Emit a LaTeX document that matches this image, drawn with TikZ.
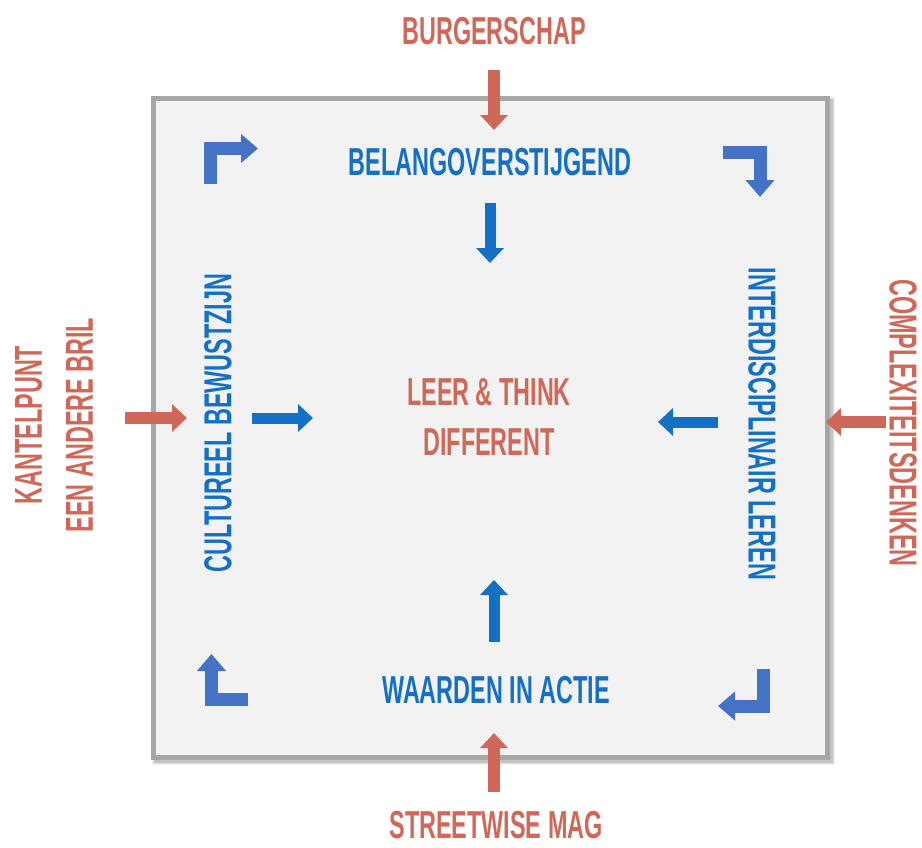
\documentclass[tikz,border=0pt]{standalone}
\usepackage{fontspec}
\setmainfont{Liberation Sans}[FakeStretch=0.6]
\usetikzlibrary{arrows.meta}

\definecolor{txtblue}{HTML}{1470C4}
\definecolor{cornerblue}{HTML}{4472C4}
\definecolor{accred}{HTML}{D0685A}
\definecolor{boxfill}{HTML}{F2F2F2}
\definecolor{boxline}{HTML}{A6A6A6}

\tikzset{
  lbl/.style={font=\fontsize{39}{50}\selectfont\bfseries, inner sep=0pt, align=center},
  bluelbl/.style={lbl, text=txtblue},
  redlbl/.style={lbl, text=accred},
  fat/.style={line width=12pt, -{Triangle[length=15pt,width=27pt]}},
  redarr/.style={fat, draw=accred},
  bluearr/.style={fat, draw=txtblue, line width=11pt},
  turn/.style={line width=13pt, draw=cornerblue, line join=miter,
    -{Triangle[length=17pt,width=28pt]}},
}

\begin{document}
\begin{tikzpicture}[x=1pt,y=-1pt]
\useasboundingbox (0,0) rectangle (922,847);

% box with a soft shadow
\foreach \d/\o in {9/0.05,7/0.08,5/0.12}
  \draw[line width=\d pt, black, opacity=\o] (156,101) rectangle (830,760);
\draw[line width=5pt, draw=boxline, fill=boxfill] (153,98) rectangle (827,757);

% labels
\node[redlbl] (burger) at (494,31) {BURGERSCHAP};
\node[bluelbl] (belang) at (490,162) {BELANGOVERSTIJGEND};
\node[redlbl] (leer) at (489,417) {LEER \& THINK\\DIFFERENT};
\node[bluelbl] (waarden) at (496,690) {WAARDEN IN ACTIE};
\node[redlbl] (street) at (496,825) {STREETWISE MAG};
\node[bluelbl, rotate=90] (cultuur) at (218,423) {CULTUREEL BEWUSTZIJN};
\node[redlbl, rotate=90, font=\fontsize{39}{51}\selectfont\bfseries] (kantel) at (54,425) {KANTELPUNT\\EEN ANDERE BRIL};
\node[bluelbl, rotate=-90] (inter) at (762,424) {INTERDISCIPLINAIR LEREN};
\node[redlbl, rotate=-90] (complex) at (903,423) {COMPLEXITEITSDENKEN};

% arrow ends
\coordinate (top-a) at (494,70);   \coordinate (top-b) at (494,130);
\coordinate (top-c) at (490,203);  \coordinate (top-d) at (490,263);
\coordinate (left-a) at (125,418); \coordinate (left-b) at (187,418);
\coordinate (left-c) at (252,418); \coordinate (left-d) at (313,418);
\coordinate (right-a) at (886,422); \coordinate (right-b) at (826,422);
\coordinate (right-c) at (718,422); \coordinate (right-d) at (658,422);
\coordinate (bot-a) at (494,792);  \coordinate (bot-b) at (494,733);
\coordinate (bot-c) at (494,642);  \coordinate (bot-d) at (494,580);

\draw[redarr] (top-a) -- (top-b);
\draw[bluearr] (top-c) -- (top-d);
\draw[redarr] (left-a) -- (left-b);
\draw[bluearr] (left-c) -- (left-d);
\draw[redarr] (right-a) -- (right-b);
\draw[bluearr] (right-c) -- (right-d);
\draw[redarr] (bot-a) -- (bot-b);
\draw[bluearr] (bot-c) -- (bot-d);

% corner turns
\coordinate (tl-a) at (210.5,184); \coordinate (tl-b) at (210.5,148.5); \coordinate (tl-c) at (258,148.5);
\coordinate (tr-a) at (723,152);   \coordinate (tr-b) at (760,152);     \coordinate (tr-c) at (760,197);
\coordinate (bl-a) at (248,699);   \coordinate (bl-b) at (211.5,699);   \coordinate (bl-c) at (211.5,654);
\coordinate (br-a) at (763,669);   \coordinate (br-b) at (763,706);     \coordinate (br-c) at (718,706);

\draw[turn] (tl-a) -- (tl-b) -- (tl-c);
\draw[turn] (tr-a) -- (tr-b) -- (tr-c);
\draw[turn] (bl-a) -- (bl-b) -- (bl-c);
\draw[turn] (br-a) -- (br-b) -- (br-c);
\end{tikzpicture}
\end{document}
